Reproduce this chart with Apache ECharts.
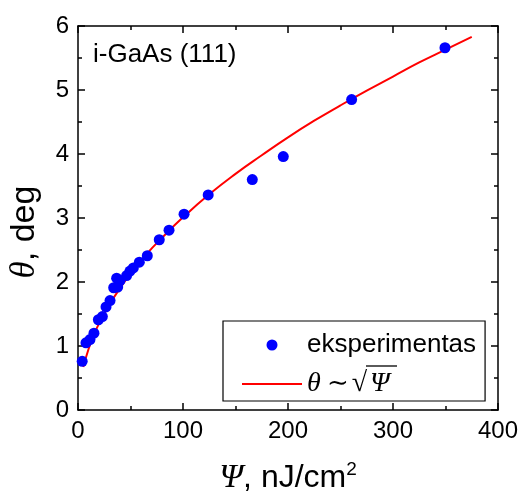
<!DOCTYPE html>
<html><head><meta charset="utf-8">
<script src="https://cdn.jsdelivr.net/npm/echarts@6/dist/echarts.min.js"></script>
<style>html,body{margin:0;padding:0;background:#fff}#c{width:520px;height:495px}</style>
</head><body><div id="c"></div>
<script>
// experimental points (Psi in nJ/cm^2, theta in deg)
const expPsi   = [4, 7.6, 11.4, 15.2, 19.4, 23.2, 26.7, 30.5, 34, 37.8, 36.8, 40, 46.3, 49.5, 52.7, 58.4, 66, 77.4, 86.7, 101, 124, 166, 195.5, 260.6, 349.5];
const expTheta = [0.76, 1.05, 1.10, 1.20, 1.41, 1.46, 1.61, 1.71, 1.91, 1.92, 2.06, 2.02, 2.10, 2.17, 2.22, 2.31, 2.41, 2.66, 2.81, 3.06, 3.36, 3.60, 3.96, 4.85, 5.66];
// fit curve
const fitPsi   = [5, 10, 15, 20, 30, 40, 50, 65, 80, 100, 125, 150, 175, 200, 225, 250, 275, 300, 325, 350, 375];
const fitTheta = [0.67, 0.95, 1.17, 1.35, 1.65, 1.90, 2.13, 2.43, 2.69, 3.01, 3.37, 3.69, 3.98, 4.26, 4.52, 4.76, 4.99, 5.21, 5.43, 5.63, 5.83];
const xTickLabels = ['0', '100', '200', '300', '400'];
const yTickLabels = ['0', '1', '2', '3', '4', '5', '6'];
const seriesNames = ['eksperimentas', 'fit'];

const SANS = 'Liberation Sans, Arial, sans-serif';
const SERIF = 'Liberation Serif, DejaVu Serif, serif';

const chart = echarts.init(document.getElementById('c'), null, {renderer: 'canvas'});

const axisCommon = {
  axisLine: {show: true, onZero: false, lineStyle: {color: '#000', width: 1.5}},
  axisTick: {show: true, inside: true, length: 7, lineStyle: {color: '#000', width: 1.5}},
  minorTick: {show: true, splitNumber: 2, length: 4, lineStyle: {color: '#000', width: 1.5}},
  splitLine: {show: false}
};

chart.setOption({
  animation: false,
  backgroundColor: '#fff',
  grid: {left: 78, right: 22, top: 26, bottom: 85, containLabel: false, outerBoundsMode: 'none'},
  xAxis: [
    Object.assign({
      type: 'value', min: 0, max: 400, interval: 100, position: 'bottom',
      axisLabel: {
        color: '#000', fontFamily: SANS, fontSize: 24, margin: 9,
        formatter: v => xTickLabels[xTickLabels.indexOf(String(v))] || ''
      },
      name: '{p|Ψ}{n|, nJ/cm}{s|2}',
      nameLocation: 'middle', nameGap: 50,
      nameTextStyle: {
        rich: {
          p: {fontFamily: SERIF, fontStyle: 'italic', fontSize: 34, color: '#000', lineHeight: 36},
          n: {fontFamily: SANS, fontSize: 32, color: '#000', lineHeight: 36},
          s: {fontFamily: SANS, fontSize: 19, color: '#000', verticalAlign: 'top', lineHeight: 36}
        }
      }
    }, axisCommon),
    Object.assign({
      type: 'value', min: 0, max: 400, interval: 100, position: 'top',
      axisLabel: {show: false}
    }, axisCommon)
  ],
  yAxis: [
    Object.assign({
      type: 'value', min: 0, max: 6, interval: 1, position: 'left',
      axisLabel: {
        color: '#000', fontFamily: SANS, fontSize: 24, margin: 9,
        formatter: v => yTickLabels[yTickLabels.indexOf(String(v))] || ''
      },
      name: '{t|θ}{n|, deg}',
      nameLocation: 'middle', nameGap: 36, nameRotate: 90,
      nameTextStyle: {
        padding: [0, 28, 0, 0],
        rich: {
          t: {fontFamily: SERIF, fontStyle: 'italic', fontSize: 35, color: '#000'},
          n: {fontFamily: SANS, fontSize: 34, color: '#000'}
        }
      }
    }, axisCommon),
    Object.assign({
      type: 'value', min: 0, max: 6, interval: 1, position: 'right',
      axisLabel: {show: false}
    }, axisCommon)
  ],
  legend: {
    orient: 'vertical',
    left: 223, top: 321,
    padding: [11, 9, 3, 18],
    itemGap: 12,
    itemWidth: 60, itemHeight: 11,
    backgroundColor: '#fff',
    borderColor: '#000', borderWidth: 1.2, borderRadius: 0,
    data: [
      {name: seriesNames[0]},
      {name: seriesNames[1], itemStyle: {opacity: 0}}
    ],
    textStyle: {
      color: '#000', fontFamily: SANS, fontSize: 26, lineHeight: 24, padding: [0, 0, 0, 0],
      rich: {
        t: {fontFamily: SERIF, fontStyle: 'italic', fontSize: 28, color: '#000', width: 20},
        o: {fontFamily: SERIF, fontSize: 26, color: '#000', width: 22, align: 'center'},
        r: {fontFamily: SERIF, fontSize: 28, color: '#000', width: 21},
        p: {fontFamily: SERIF, fontStyle: 'italic', fontSize: 28, color: '#000'}
      }
    },
    formatter: name => name === 'fit' ? '{t|θ}{o|∼}{r|√}{p|Ψ}' : name
  },
  graphic: [
    {type: 'text', left: 93, top: 42,
     style: {text: 'i-GaAs (111)', fontFamily: SANS, fontSize: 26, fill: '#000'}},
    {type: 'line', shape: {x1: 366, y1: 366, x2: 397, y2: 366},
     style: {stroke: '#000', lineWidth: 1.3}, z: 100}
  ],
  series: [
    {
      name: 'eksperimentas', type: 'scatter', symbol: 'circle', symbolSize: 11,
      itemStyle: {color: '#0000ff', opacity: 1},
      data: expPsi.map((x, i) => [x, expTheta[i]]),
      z: 3
    },
    {
      name: 'fit', type: 'line', symbol: 'none', smooth: true,
      lineStyle: {color: '#ff0000', width: 2},
      itemStyle: {color: '#ff0000'},
      data: fitPsi.map((x, i) => [x, fitTheta[i]]),
      z: 2
    }
  ]
});
</script>
</body></html>
